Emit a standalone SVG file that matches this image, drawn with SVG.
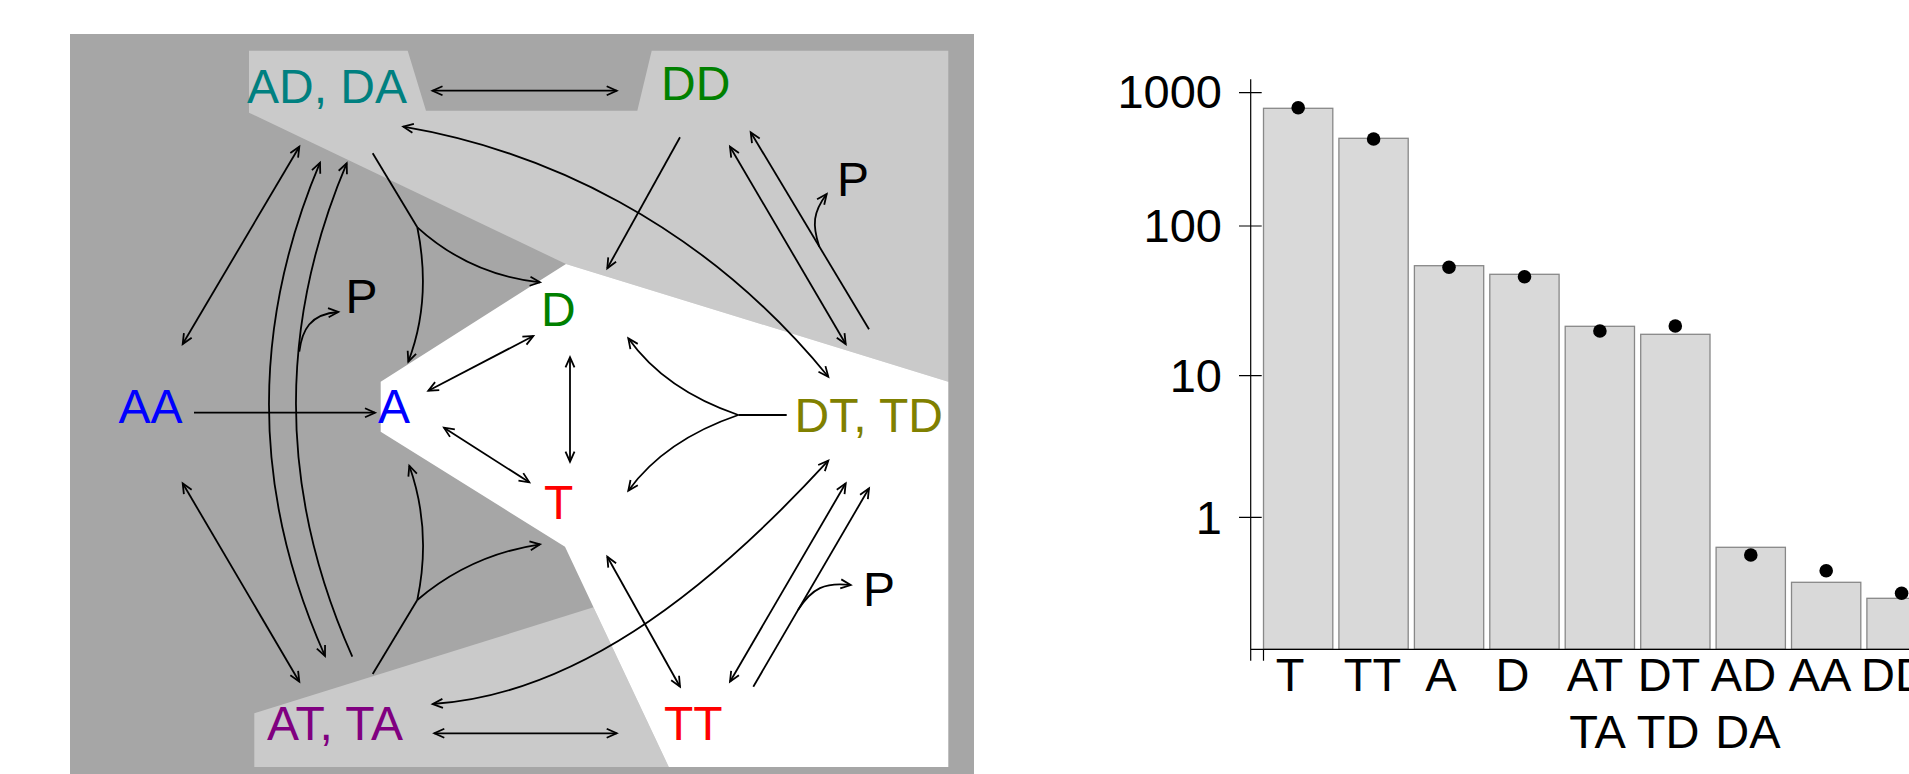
<svg xmlns="http://www.w3.org/2000/svg" width="1909" height="774" viewBox="0 0 1909 774">
  <style>
    .lbl { font-family: "Liberation Sans", Arial, sans-serif; font-size: 48px; }
    .ax { font-family: "Liberation Sans", Arial, sans-serif; font-size: 47px; fill: #000; }
    .edge { fill: none; stroke: #000; stroke-width: 1.8; }
    .both { marker-start: url(#arr); marker-end: url(#arr); }
    .end { marker-end: url(#arr); }
    .bar { fill: #d9d9d9; stroke: #888; stroke-width: 1.3; }
    .tick { stroke: #000; stroke-width: 1.2; fill: none; }
  </style>
  <defs>
    <marker id="arr" markerUnits="userSpaceOnUse" markerWidth="16" markerHeight="14" viewBox="-13 -7 16 14" refX="0" refY="0" orient="auto-start-reverse">
      <path d="M-10,-4.5 L0,0 L-10,4.5" fill="none" stroke="#000" stroke-width="1.8"/>
    </marker>
  </defs>

  <rect width="1909" height="774" fill="#fff"/>

  <!-- state-space background -->
  <g id="background">
    <rect x="70" y="34" width="904" height="740" fill="#a6a6a6"/>
    <path d="M249,50.7 H407.7 L426,110.7 H637.3 L651.7,50.7 H948.3 V381.7 L566,264 L249,112.7 Z" fill="#cacaca"/>
    <path d="M254.3,713.3 L593.5,607.3 L668.8,767 H254.3 Z" fill="#cacaca"/>
    <path d="M566,264 L948.3,381.7 V767 H668.8 L565,546.7 L380.7,431.7 V381.7 Z" fill="#fff"/>
  </g>

  <!-- transitions -->
  <g id="connectors">
    <path class="edge both" d="M432.5,90.7 H616.7"/>
    <path class="edge both" d="M182.7,344 L299.3,146.7"/>
    <path class="edge both" d="M320,162.7 Q215.5,410.5 325,656"/>
    <path class="edge end" d="M352.3,656.7 Q242.5,410 346.7,163.3"/>
    <path class="edge end" d="M299.3,351.7 C302,330 310,314 338.3,312"/>
    <path class="edge" d="M372.7,153.3 L417.3,227.3"/>
    <path class="edge end" d="M417.3,227.3 Q470,275 540,282.3"/>
    <path class="edge end" d="M417.3,227.3 Q432,300 408.3,361.7"/>
    <path class="edge end" d="M194,412.7 H375"/>
    <path class="edge both" d="M428.3,390.7 L533.3,336"/>
    <path class="edge both" d="M403.3,126.7 C540,150 700,220 828.3,376.7"/>
    <path class="edge end" d="M680,137.3 L607.3,268.3"/>
    <path class="edge both" d="M730,146.7 L845.7,344"/>
    <path class="edge end" d="M869,329.3 L750.7,132.3"/>
    <path class="edge end" d="M819.3,246.7 C812,225 813,212 826.7,194"/>
    <path class="edge both" d="M570,357.3 V461.7"/>
    <path class="edge both" d="M444,427.7 L529.3,482.3"/>
    <path class="edge" d="M786.7,415 H738.3"/>
    <path class="edge end" d="M738.3,415 Q665,390 628.3,338.3"/>
    <path class="edge end" d="M738.3,415 Q665,440 628.3,490.7"/>
    <path class="edge" d="M372.7,674 L417.3,600"/>
    <path class="edge end" d="M417.3,600 Q432,530 409.3,465.7"/>
    <path class="edge end" d="M417.3,600 Q470,555 540,544.3"/>
    <path class="edge both" d="M182.7,483.3 L299.3,681.7"/>
    <path class="edge both" d="M434.3,733.3 H616.7"/>
    <path class="edge both" d="M432.7,704 C570,695 700,600 828.3,460.7"/>
    <path class="edge both" d="M607.3,556.7 L680,686.7"/>
    <path class="edge both" d="M730,681.7 L845.7,483.3"/>
    <path class="edge end" d="M753.3,686.7 L869,488.3"/>
    <path class="edge end" d="M798,610 C812,588 825,582 850.7,585"/>
  </g>

  <!-- states -->
  <g id="node-AD-DA"><text class="lbl" x="247" y="103.3" fill="#008080">AD, DA</text></g>
  <g id="node-DD"><text class="lbl" x="661" y="100" fill="#008000">DD</text></g>
  <g id="node-D"><text class="lbl" x="541" y="326" fill="#008000">D</text></g>
  <g id="node-DT-TD"><text class="lbl" x="794.5" y="431.7" fill="#808000">DT, TD</text></g>
  <g id="node-AA"><text class="lbl" x="118.5" y="422.7" fill="#0000ff">AA</text></g>
  <g id="node-A"><text class="lbl" x="378" y="422.7" fill="#0000ff">A</text></g>
  <g id="node-T"><text class="lbl" x="544" y="519.3" fill="#ff0000">T</text></g>
  <g id="node-TT"><text class="lbl" x="664" y="740" fill="#ff0000">TT</text></g>
  <g id="node-AT-TA"><text class="lbl" x="267" y="740" fill="#800080">AT, TA</text></g>
  <g id="node-P1"><text class="lbl" x="345.5" y="312.7" fill="#000">P</text></g>
  <g id="node-P2"><text class="lbl" x="837" y="195.7" fill="#000">P</text></g>
  <g id="node-P3"><text class="lbl" x="863" y="606" fill="#000">P</text></g>

  <!-- log-scale bar chart -->
  <g id="chart">
    <g id="bars">
      <rect class="bar" x="1263.5" y="108.3" width="69.3" height="541"/>
      <rect class="bar" x="1338.9" y="138.3" width="69.3" height="511"/>
      <rect class="bar" x="1414.4" y="265.7" width="69.3" height="383.6"/>
      <rect class="bar" x="1489.8" y="274.3" width="69.3" height="375"/>
      <rect class="bar" x="1565.2" y="326.3" width="69.3" height="323"/>
      <rect class="bar" x="1640.7" y="334.3" width="69.3" height="315"/>
      <rect class="bar" x="1716.1" y="547.3" width="69.3" height="102"/>
      <rect class="bar" x="1791.5" y="582.3" width="69.3" height="67"/>
      <rect class="bar" x="1866.9" y="598.3" width="69.3" height="51"/>
    </g>
    <g id="points" fill="#000">
      <circle cx="1298.2" cy="107.7" r="6.8"/>
      <circle cx="1373.6" cy="139" r="6.8"/>
      <circle cx="1449" cy="267.3" r="6.8"/>
      <circle cx="1524.5" cy="276.7" r="6.8"/>
      <circle cx="1599.9" cy="331" r="6.8"/>
      <circle cx="1675.3" cy="326" r="6.8"/>
      <circle cx="1750.8" cy="555" r="6.8"/>
      <circle cx="1826.2" cy="570.7" r="6.8"/>
      <circle cx="1901.6" cy="593.3" r="6.8"/>
    </g>
    <g id="axes">
      <path class="tick" d="M1250.7,79.3 V660.7 M1250.7,649.3 H1909 M1263.5,649.3 V660.7"/>
      <path class="tick" d="M1239,92.7 H1261.7 M1239,226 H1261.7 M1239,375.7 H1261.7 M1239,517.3 H1261.7"/>
      <text class="ax" x="1222" y="108.3" text-anchor="end">1000</text>
      <text class="ax" x="1222" y="242" text-anchor="end">100</text>
      <text class="ax" x="1222" y="391.5" text-anchor="end">10</text>
      <text class="ax" x="1222" y="534" text-anchor="end">1</text>
    </g>
    <g id="categories" class="ax" text-anchor="middle">
      <text x="1290" y="691">T</text>
      <text x="1372.5" y="691">TT</text>
      <text x="1441" y="691">A</text>
      <text x="1512.5" y="691">D</text>
      <text x="1595" y="691">AT</text>
      <text x="1669" y="691">DT</text>
      <text x="1743.5" y="691">AD</text>
      <text x="1820" y="691">AA</text>
      <text x="1895" y="691">DD</text>
      <text x="1597.5" y="748">TA</text>
      <text x="1668" y="748">TD</text>
      <text x="1748" y="748">DA</text>
    </g>
  </g>
</svg>
